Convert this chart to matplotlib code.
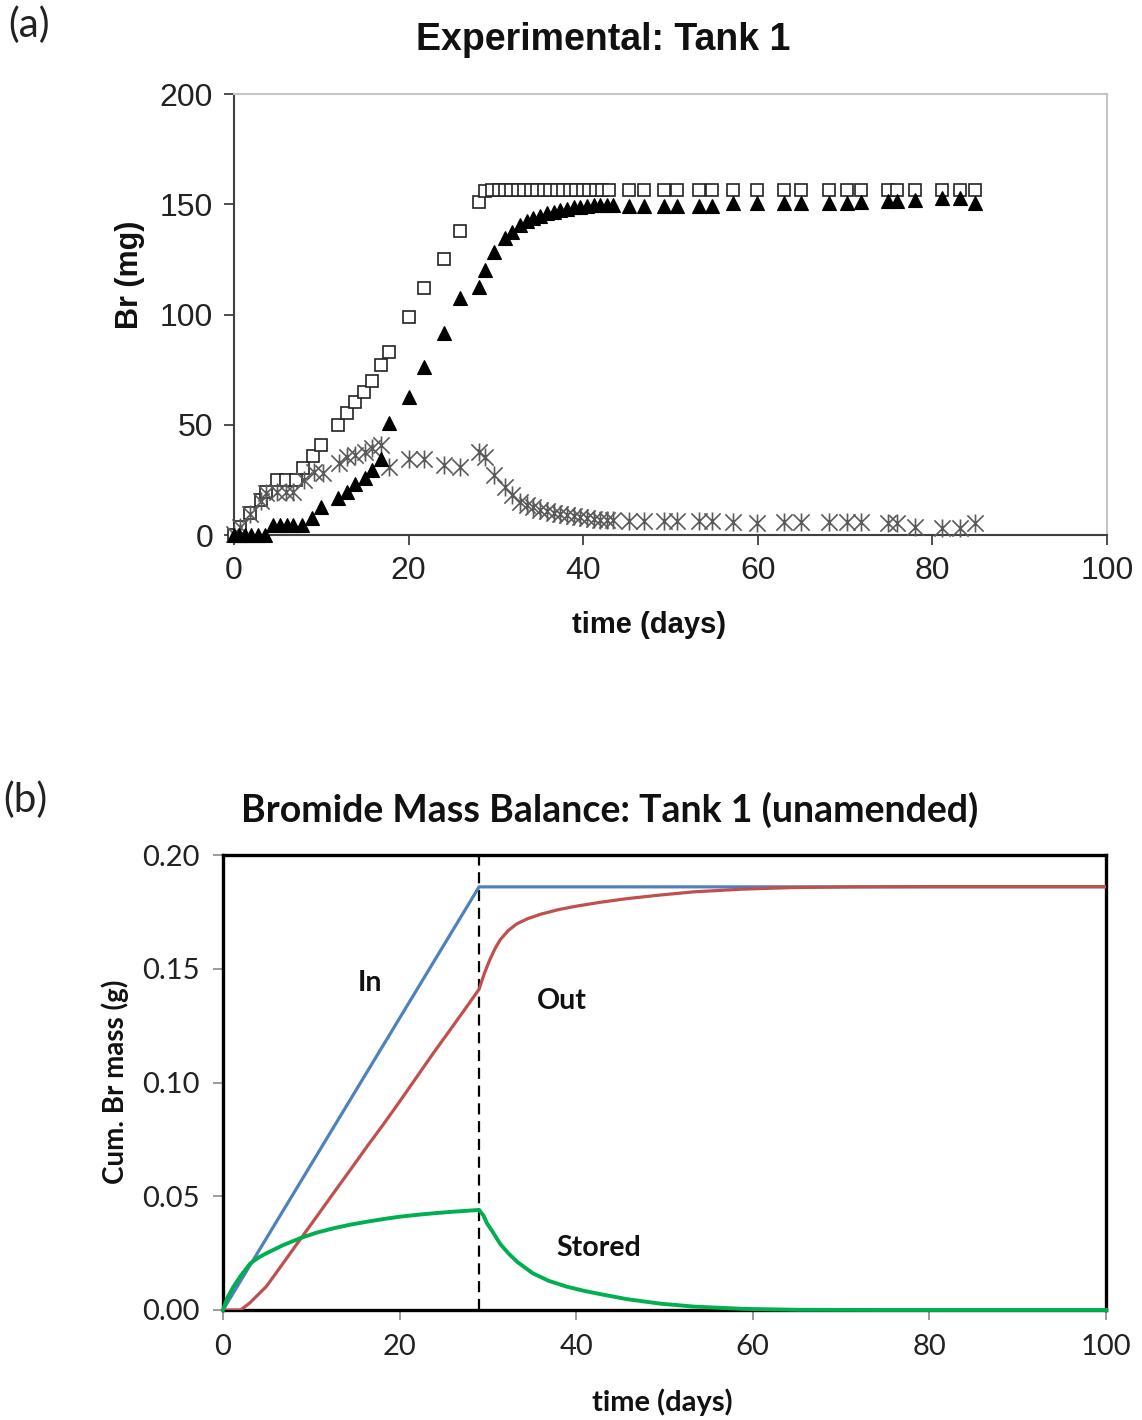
import matplotlib
matplotlib.use("Agg")
import matplotlib.pyplot as plt
from matplotlib.path import Path

# ---------------- (a) Experimental: Tank 1 (Br, mg) ----------------
in_days = [0, 0.7, 1.8, 3.1, 3.7, 4.9, 6.0, 7.1, 7.9, 9.1, 10.0, 11.9, 13.0, 13.9,
           14.9, 15.8, 16.8, 17.8, 20.0, 21.8, 24.0, 25.9, 28.1, 28.7,
           29.5, 30.3, 31.0, 31.7, 32.5, 33.2, 34.0, 34.7, 35.5, 36.2, 37.0, 37.7,
           38.5, 39.2, 40.0, 40.7, 41.5, 42.2, 43.0,
           45.2, 47.0, 49.2, 50.7, 53.3, 54.7, 57.2, 59.9, 63.0, 65.0, 68.2, 70.2,
           71.8, 74.9, 75.9, 78.0, 81.1, 83.2, 84.9]
in_mg = [0, 3.6, 10, 16, 19.6, 25, 25, 25, 30.5, 36, 41, 50, 55.5, 60.5,
         65, 70, 77, 83, 99, 112, 125, 138, 151, 156,
         156.5, 156.5, 156.5, 156.5, 156.5, 156.5, 156.5, 156.5, 156.5, 156.5, 156.5, 156.5,
         156.5, 156.5, 156.5, 156.5, 156.5, 156.5, 156.5,
         156.5, 156.5, 156.5, 156.5, 156.5, 156.5, 156.5, 156.5, 156.5, 156.5, 156.5, 156.5,
         156.5, 156.5, 156.5, 156.5, 156.5, 156.5, 156.5]

out_days = [0, 0.6, 1.3, 2.0, 2.8, 3.5, 4.5, 5.3, 6.1, 6.8, 7.8, 8.9, 10.0, 11.9,
            12.9, 13.9, 15.0, 15.8, 16.8, 17.8, 20.0, 21.8, 24.0, 25.9, 28.1, 28.7,
            29.8, 31.0, 31.9, 32.8, 33.6, 34.3, 35.1, 35.8, 36.6, 37.3, 38.1, 38.9,
            39.6, 40.4, 41.2, 41.9, 42.7, 43.4,
            45.2, 47.0, 49.2, 50.7, 53.3, 54.7, 57.2, 59.9, 63.0, 65.0, 68.2, 70.2,
            71.8, 74.9, 75.9, 78.0, 81.1, 83.2, 84.9]
out_mg = [0, 0, 0, 0, 0, 0, 4.5, 4.5, 4.5, 4.5, 4.5, 7.6, 12.5, 16.6,
          19.6, 23.0, 25.7, 29.5, 34.5, 50.6, 62.7, 76.3, 91.5, 107.3, 112.6, 120,
          128.5, 134.5, 137.6, 140.6, 142.2, 143.6, 144.8, 145.9, 146.7, 147.4, 148.0, 148.6,
          148.9, 149.2, 149.5, 149.7, 149.7, 149.7,
          149.2, 149.2, 149.2, 149.2, 149.2, 149.2, 150.4, 150.6, 150.4, 150.4, 150.4, 150.4,
          151.0, 151.6, 151.6, 152.0, 152.7, 152.7, 150.4]

stored_days = [0, 0.7, 1.8, 3.1, 3.7, 4.9, 5.9, 6.8, 8.0, 9.2, 10.2, 12.0, 13.0, 13.9,
               15.0, 15.8, 16.8, 17.8, 20.0, 21.8, 24.0, 25.9, 28.1, 28.7,
               29.8, 31.0, 31.9, 32.8, 33.6, 34.3, 35.1, 35.8, 36.6, 37.3, 38.1, 38.9,
               39.6, 40.4, 41.2, 41.9, 42.7, 43.4,
               45.2, 47.0, 49.2, 50.7, 53.3, 54.7, 57.2, 59.9, 63.0, 65.0, 68.2, 70.2,
               71.8, 74.9, 75.9, 78.0, 81.1, 83.2, 84.9]
stored_mg = [0.5, 3.6, 9.5, 15.5, 19.0, 19.6, 19.6, 19.6, 25.0, 28.5, 28.0, 32.5, 35.2, 36.3,
             37.8, 39.3, 40.8, 31.0, 34.3, 34.3, 31.7, 30.7, 37.8, 35.2,
             27.2, 21.9, 18.1, 15.1, 13.5, 12.5, 11.5, 10.8, 10.2, 9.6, 9.1, 8.5,
             8.0, 7.6, 7.2, 6.9, 6.8, 6.8,
             6.5, 6.5, 6.5, 6.5, 6.5, 6.5, 6.0, 5.5, 6.0, 6.0, 6.0, 6.0,
             6.0, 5.5, 5.5, 3.5, 3.0, 3.0, 5.5]

a_xticks = [0, 20, 40, 60, 80, 100]
a_yticks = [0, 50, 100, 150, 200]

# ---------------- (b) Bromide mass balance (cumulative Br, g) ----------------
bal_in_days = [0, 29, 100]
bal_in_g = [0, 0.186, 0.186]

bal_out_days = [0, 2.0, 3.0, 4.9, 6.8, 8.7, 10.6, 12.5, 14.4, 16.3, 18.2, 20.0, 21.9,
                23.8, 25.7, 27.6, 29.0, 29.6, 30.2, 30.8, 31.4, 32.3, 33.3, 34.5, 36.0,
                38.0, 40.0, 42.7, 45.7, 49.5, 53.3, 58.9, 64.6, 72.0, 80.0, 90.0, 100.0]
bal_out_g = [0, 0, 0.0030, 0.0103, 0.0205, 0.0308, 0.0410, 0.0513, 0.0615, 0.0718, 0.0818,
             0.0916, 0.1022, 0.1128, 0.1230, 0.1333, 0.1410, 0.1480, 0.1538, 0.1588, 0.1628,
             0.1668, 0.1698, 0.1720, 0.1740, 0.1760, 0.1775, 0.1792, 0.1808, 0.1824, 0.1838,
             0.1850, 0.1857, 0.1860, 0.1861, 0.1861, 0.1861]

bal_stored_days = [0, 0.5, 1.2, 2.0, 3.1, 4.0, 4.9, 6.8, 8.7, 10.6, 12.5, 14.4, 16.3, 18.2,
                   20.0, 21.9, 23.8, 25.7, 27.6, 29.0, 29.5, 29.9, 30.6, 31.4, 32.3, 33.3,
                   35.1, 36.9, 38.9, 40.8, 42.7, 45.7, 49.5, 53.3, 58.9, 65.0, 75.0, 100.0]
bal_stored_g = [0, 0.0055, 0.0103, 0.0150, 0.0205, 0.0230, 0.0249, 0.0285, 0.0315, 0.0340,
                0.0359, 0.0375, 0.0388, 0.0400, 0.0410, 0.0418, 0.0425, 0.0431, 0.0436, 0.0440,
                0.0415, 0.0381, 0.0340, 0.0290, 0.0250, 0.0212, 0.0161, 0.0128, 0.0103, 0.0085,
                0.0070, 0.0048, 0.0028, 0.0015, 0.0005, 0.0001, 0, 0]

b_xticks = [0, 20, 40, 60, 80, 100]
b_yticks = [0.00, 0.05, 0.10, 0.15, 0.20]
switch_day = 29

# ---------------- figure ----------------
fig = plt.figure(figsize=(11.42, 14.2), dpi=100)

arial = ["Liberation Sans", "DejaVu Sans"]
calibri = ["Lato", "DejaVu Sans"]

# spreadsheet-style asterisk: an X crossed by a vertical bar
star = Path([(0, -1), (0, 1), (-0.9, -0.9), (0.9, 0.9), (-0.9, 0.9), (0.9, -0.9)],
            [Path.MOVETO, Path.LINETO, Path.MOVETO, Path.LINETO, Path.MOVETO, Path.LINETO])

# panel (a)
ax = fig.add_axes([234 / 1142, 1 - 535 / 1420, 873 / 1142, 441 / 1420])
ax.plot(in_days, in_mg, linestyle="none", marker="s", markersize=8.5,
        markerfacecolor="white", markeredgecolor="#222222", markeredgewidth=1.2,
        clip_on=False, zorder=3)
ax.plot(stored_days, stored_mg, linestyle="none", marker=star, markersize=13,
        markerfacecolor="none", markeredgecolor="#5a5a5a", markeredgewidth=1.2,
        clip_on=False, zorder=3)
ax.plot(out_days, out_mg, linestyle="none", marker="^", markersize=10,
        markerfacecolor="black", markeredgecolor="black", markeredgewidth=0.8,
        clip_on=False, zorder=4)
ax.set_xlim(0, 100)
ax.set_ylim(0, 200)
ax.set_xticks(a_xticks)
ax.set_yticks(a_yticks)
ax.tick_params(direction="out", length=7, width=1.3, color="#404040",
               labelsize=23, labelcolor="#222222", pad=8)
for lab in ax.get_xticklabels() + ax.get_yticklabels():
    lab.set_family(arial)
for side in ("left", "bottom"):
    ax.spines[side].set_color("#404040")
    ax.spines[side].set_linewidth(1.5)
for side in ("top", "right"):
    ax.spines[side].set_color("#c4c4c4")
    ax.spines[side].set_linewidth(1.5)
ax.text((603 - 234) / 873, (535 - 40) / 441, "Experimental: Tank 1",
        transform=ax.transAxes, fontsize=27, fontweight="bold", family=arial,
        ha="center", va="center", color="#111111")
ax.text((649 - 234) / 873, (535 - 625) / 441, "time (days)",
        transform=ax.transAxes, fontsize=21, fontweight="bold", family=arial,
        ha="center", va="center", color="#111111")
ax.text((130 - 234) / 873, (535 - 275) / 441, "Br (mg)",
        transform=ax.transAxes, fontsize=22, fontweight="bold", family=arial,
        ha="center", va="center", rotation=90, color="#111111")

# panel (b)
bx = fig.add_axes([223 / 1142, 1 - 1310 / 1420, 883 / 1142, 455 / 1420])
bx.plot(bal_in_days, bal_in_g, color="#4F81BD", linewidth=2.3, zorder=3)
bx.plot(bal_out_days, bal_out_g, color="#C0504D", linewidth=2.3, zorder=3)
bx.plot(bal_stored_days, bal_stored_g, color="#00B050", linewidth=2.8, zorder=4,
        clip_on=False)
bx.axvline(switch_day, color="black", linestyle=(0, (5, 3)), linewidth=1.6, zorder=2)
bx.set_xlim(0, 100)
bx.set_ylim(0, 0.20)
bx.set_xticks(b_xticks)
bx.set_yticks(b_yticks)
bx.set_yticklabels([f"{v:.2f}" for v in b_yticks])
bx.tick_params(direction="out", length=7, width=1.2, color="#8a8a8a",
               labelsize=21, labelcolor="#222222", pad=10)
for lab in bx.get_xticklabels() + bx.get_yticklabels():
    lab.set_family(calibri)
for side in bx.spines.values():
    side.set_color("black")
    side.set_linewidth(2.4)
bx.text((610 - 223) / 883, (1310 - 810) / 455, "Bromide Mass Balance: Tank 1 (unamended)",
        transform=bx.transAxes, fontsize=27, fontweight="bold", family=calibri,
        ha="center", va="center", color="#111111")
bx.text((662 - 223) / 883, (1310 - 1402) / 455, "time (days)",
        transform=bx.transAxes, fontsize=21, fontweight="bold", family=calibri,
        ha="center", va="center", color="#111111")
bx.text((115 - 223) / 883, (1310 - 1082) / 455, "Cum. Br mass (g)",
        transform=bx.transAxes, fontsize=20, fontweight="bold", family=calibri,
        ha="center", va="center", rotation=90, color="#111111")
bx.text(16.6, 0.1437, "In", fontsize=20.5, fontweight="bold", family=calibri,
        ha="center", va="center", color="#111111")
bx.text(38.4, 0.1358, "Out", fontsize=20.5, fontweight="bold", family=calibri,
        ha="center", va="center", color="#111111")
bx.text(42.5, 0.0273, "Stored", fontsize=20.5, fontweight="bold", family=calibri,
        ha="center", va="center", color="#111111")

# panel letters
fig.text(8 / 1142, 1 - 25 / 1420, "(a)", fontsize=29, family=calibri,
         ha="left", va="center", color="#222222")
fig.text(3 / 1142, 1 - 800 / 1420, "(b)", fontsize=29, family=calibri,
         ha="left", va="center", color="#222222")

fig.savefig("out.png", dpi=100, facecolor="white")
